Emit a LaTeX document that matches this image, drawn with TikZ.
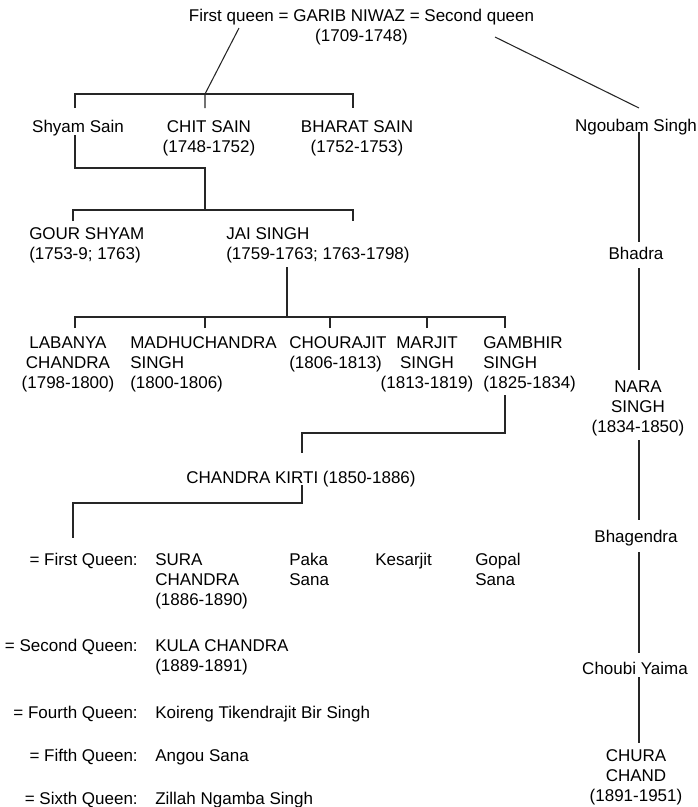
\documentclass[tikz,border=0pt]{standalone}
\usepackage{fontspec}
\setmainfont{Liberation Sans}
\usetikzlibrary{calc}
\begin{document}
\begin{tikzpicture}[x=0.75pt,y=-0.75pt,
  lab/.style={inner sep=0pt, font=\fontsize{12.75}{15}\selectfont},
  lc/.style={lab, align=center, anchor=base},
  ll/.style={lab, align=left, anchor=base west},
  lr/.style={lab, align=right, anchor=base east},
  conn/.style={draw=black!85, line width=0.8pt}]
\useasboundingbox (0,0) rectangle (698,807);
% nodes (positions give the baseline of the last line)
\node[lc] (top) at (361.5,41) {First queen = GARIB NIWAZ = Second queen\\(1709-1748)};
\node[lc] (shyam) at (78,132) {Shyam Sain};
\node[lc] (chit) at (209,152) {CHIT SAIN\\(1748-1752)};
\node[lc] (bharat) at (357,152) {BHARAT SAIN\\(1752-1753)};
\node[lc] (ngoubam) at (636,131) {Ngoubam Singh};
\node[ll] (gour) at (29,259) {GOUR SHYAM\\(1753-9; 1763)};
\node[ll] (jai) at (226,259) {JAI SINGH\\(1759-1763; 1763-1798)};
\node[lc] (bhadra) at (636,259) {Bhadra};
\node[lc] (labanya) at (68,388) {LABANYA\\CHANDRA\\(1798-1800)};
\node[ll] (madhu) at (130,388) {MADHUCHANDRA\\SINGH\\(1800-1806)};
\node[ll] (chourajit) at (289,368) {CHOURAJIT\\(1806-1813)};
\node[lc] (marjit) at (427,388) {MARJIT\\SINGH\\(1813-1819)};
\node[ll] (gambhir) at (483,388) {GAMBHIR\\SINGH\\(1825-1834)};
\node[lc] (nara) at (638,432) {NARA\\SINGH\\(1834-1850)};
\node[lc] (kirti) at (301,483) {CHANDRA KIRTI (1850-1886)};
\node[lc] (bhagendra) at (636,542) {Bhagendra};
\node[lr] (q1) at (138,565) {= First Queen:};
\node[ll] (sura) at (155,605) {SURA\\CHANDRA\\(1886-1890)};
\node[ll] (paka) at (289,585) {Paka\\Sana};
\node[ll] (kesarjit) at (375,565) {Kesarjit};
\node[ll] (gopal) at (475,585) {Gopal\\Sana};
\node[lr] (q2) at (138,651) {= Second Queen:};
\node[ll] (kula) at (155,671) {KULA CHANDRA\\(1889-1891)};
\node[lc] (choubi) at (635,674) {Choubi Yaima};
\node[lr] (q4) at (138,718) {= Fourth Queen:};
\node[ll] (koireng) at (155,718) {Koireng Tikendrajit Bir Singh};
\node[lr] (q5) at (138,761) {= Fifth Queen:};
\node[ll] (angou) at (155,761) {Angou Sana};
\node[lr] (q6) at (138,804) {= Sixth Queen:};
\node[ll] (zillah) at (155,804) {Zillah Ngamba Singh};
\node[lc] (chura) at (636,801) {CHURA\\CHAND\\(1891-1951)};
% junctions
\coordinate (cx) at (639,0);
\coordinate (j2) at (205,210);
\coordinate (j3) at (287,317);
% right column
\draw[conn] ($(top.base)+(133.5,-4)$) -- ($(ngoubam.base -| cx)+(0,-23)$);
\draw[conn] ($(ngoubam.base -| cx)+(0,1)$) -- ($(bhadra.base -| cx)+(0,-17)$);
\draw[conn] ($(bhadra.base -| cx)+(0,9)$) -- ($(nara.base -| cx)+(0,-62)$);
\draw[conn] ($(nara.base -| cx)+(0,8)$) -- ($(bhagendra.base -| cx)+(0,-22)$);
\draw[conn] ($(bhagendra.base -| cx)+(0,10)$) -- ($(choubi.base -| cx)+(0,-21)$);
\draw[conn] ($(choubi.base -| cx)+(0,3)$) -- ($(chura.base -| cx)+(0,-58)$);
% first generation
\draw[conn] ($(shyam.base)+(-3,-24)$) |- ($(bharat.base)+(-4,-58)$) -- ($(bharat.base)+(-4,-44)$);
\draw[conn] ($(top.base)+(-122.5,-13)$) -- ($(chit.base)+(-4,-58)$) -- ($(chit.base)+(-4,-44)$);
% Shyam Sain's sons
\draw[conn] ($(shyam.base)+(-3,3)$) |- ($(j2)+(0,-42)$) -- (j2);
\draw[conn] ($(gour.base west)+(44,-38)$) |- (j2) -| ($(jai.base west)+(127,-38)$);
% Jai Singh's sons
\draw[conn] ($(jai.base west)+(61,8)$) -- (j3);
\draw[conn] ($(labanya.base)+(7,-60)$) |- (j3) -| ($(gambhir.base west)+(22,-60)$);
\draw[conn] ($(madhu.base west)+(75,-60)$) -- ++(0,-11);
\draw[conn] ($(chourajit.base west)+(41,-40)$) -- ++(0,-11);
\draw[conn] ($(marjit.base)+(0,-60)$) -- ++(0,-11);
% Gambhir -> Chandra Kirti
\draw[conn] ($(gambhir.base west)+(22,7)$) |- ($(kirti.base)+(1,-50)$) -- ($(kirti.base)+(1,-30)$);
% Chandra Kirti -> queens
\draw[conn] ($(kirti.base)+(1,2)$) |- ($(q1.base east)+(-65,-62)$) -- ($(q1.base east)+(-65,-27)$);
\end{tikzpicture}
\end{document}
